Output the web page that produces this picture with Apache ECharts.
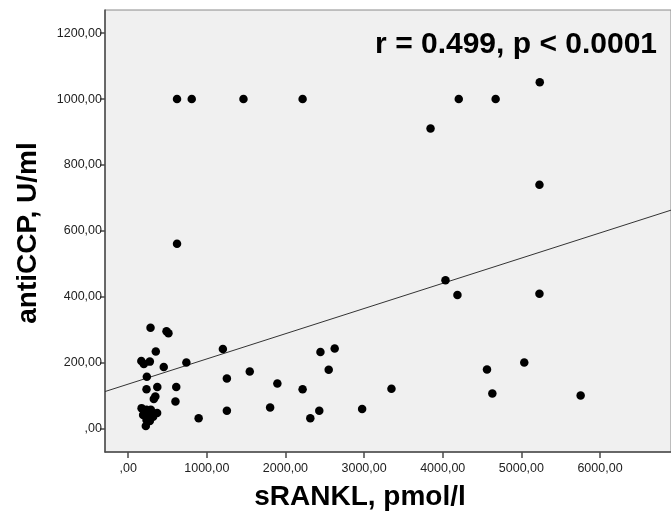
<!DOCTYPE html>
<html>
<head>
<meta charset="utf-8">
<script src="https://cdn.jsdelivr.net/npm/echarts@6/dist/echarts.min.js"></script>
<style>
  html, body { margin: 0; padding: 0; background: #ffffff; }
  #chart { width: 671px; height: 518px; }
</style>
</head>
<body>
<div id="chart"></div>
<script>
// sRANKL (pmol/l) against anti-CCP (U/ml), one point per patient
const sRANKL = [
  621, 808, 1466, 2218, 621, 5234, 4204, 4673, 3845, 5230,
  4035, 4187, 5230, 4563, 5037, 3348, 4631, 5754,
  1204, 1255, 1546, 1897, 2218, 2445, 2626, 2550, 1255, 1805,
  2316, 2430, 2975, 896,
  284, 487, 512, 351, 167, 199, 275, 452, 740, 237,
  233, 370, 611, 345, 326, 601,
  170, 233, 288, 368, 190, 253, 317, 233, 275, 224
];
const antiCCP = [
  1000, 1000, 1000, 1000, 561, 1051, 1000, 1000, 911, 740,
  451, 406, 410, 180, 201, 122, 107, 101,
  242, 153, 174, 138, 120, 233, 244, 179, 55, 65,
  32, 55, 60, 32,
  307, 296, 290, 235, 206, 197, 204, 188, 201, 158,
  120, 127, 127, 98, 91, 83,
  63, 58, 58, 48, 42, 42, 37, 27, 24, 9
];

// Linear fit: anti-CCP = intercept + slope * sRANKL
const fitIntercept = 135.8;
const fitSlope = 0.0764;

// Axis ticks
const xTicks = [0, 1000, 2000, 3000, 4000, 5000, 6000];
const yTicks = [0, 200, 400, 600, 800, 1000, 1200];

const xMin = -295, xMax = 6903;
const yMin = -70, yMax = 1270;

const points = sRANKL.map((x, i) => [x, antiCCP[i]]);
const fitLine = [xMin, xMax].map(x => [x, fitIntercept + fitSlope * x]);

const fmt = v => (v === 0 ? ',00' : v + ',00');
const FONT = '"Liberation Sans", Arial, Helvetica, sans-serif';

const chart = echarts.init(document.getElementById('chart'), null, { renderer: 'canvas' });
chart.setOption({
  animation: false,
  backgroundColor: '#ffffff',
  grid: {
    left: 105, top: 10, right: -2, bottom: 66,
    show: true,
    backgroundColor: '#f0f0f0',
    borderColor: '#8a8a8a',
    borderWidth: 1
  },
  xAxis: {
    type: 'value',
    min: xMin, max: xMax,
    axisLine: { show: true, onZero: false, lineStyle: { color: '#4a4a4a', width: 1.5 } },
    axisTick: { show: true, length: 6, customValues: xTicks, lineStyle: { color: '#4a4a4a', width: 1.5 } },
    axisLabel: { customValues: xTicks, formatter: fmt, color: '#222', fontSize: 12.5, fontFamily: FONT, margin: 10 },
    splitLine: { show: false }
  },
  yAxis: {
    type: 'value',
    min: yMin, max: yMax,
    axisLine: { show: true, onZero: false, lineStyle: { color: '#4a4a4a', width: 1.5 } },
    axisTick: { show: true, length: 5, customValues: yTicks, lineStyle: { color: '#4a4a4a', width: 1.5 } },
    axisLabel: { customValues: yTicks, formatter: fmt, color: '#222', fontSize: 12.5, fontFamily: FONT, margin: 3 },
    splitLine: { show: false }
  },
  series: [
    {
      type: 'line',
      data: fitLine,
      showSymbol: false,
      silent: true,
      lineStyle: { color: '#333333', width: 1 },
      z: 2
    },
    {
      type: 'scatter',
      data: points,
      symbol: 'circle',
      symbolSize: 8.5,
      itemStyle: { color: '#000000', opacity: 1 },
      z: 3
    }
  ],
  graphic: [
    {
      type: 'text',
      x: 657, y: 45,
      style: {
        text: 'r = 0.499, p < 0.0001',
        font: 'bold 30px ' + FONT,
        fill: '#000',
        textAlign: 'right',
        textVerticalAlign: 'middle'
      },
      z: 10
    },
    {
      type: 'text',
      x: 360, y: 497,
      style: {
        text: 'sRANKL, pmol/l',
        font: 'bold 28px ' + FONT,
        fill: '#000',
        textAlign: 'center',
        textVerticalAlign: 'middle'
      }
    },
    {
      type: 'text',
      x: 28, y: 233,
      rotation: Math.PI / 2,
      style: {
        text: 'antiCCP, U/ml',
        font: 'bold 28px ' + FONT,
        fill: '#000',
        textAlign: 'center',
        textVerticalAlign: 'middle'
      }
    }
  ]
});
</script>
</body>
</html>
